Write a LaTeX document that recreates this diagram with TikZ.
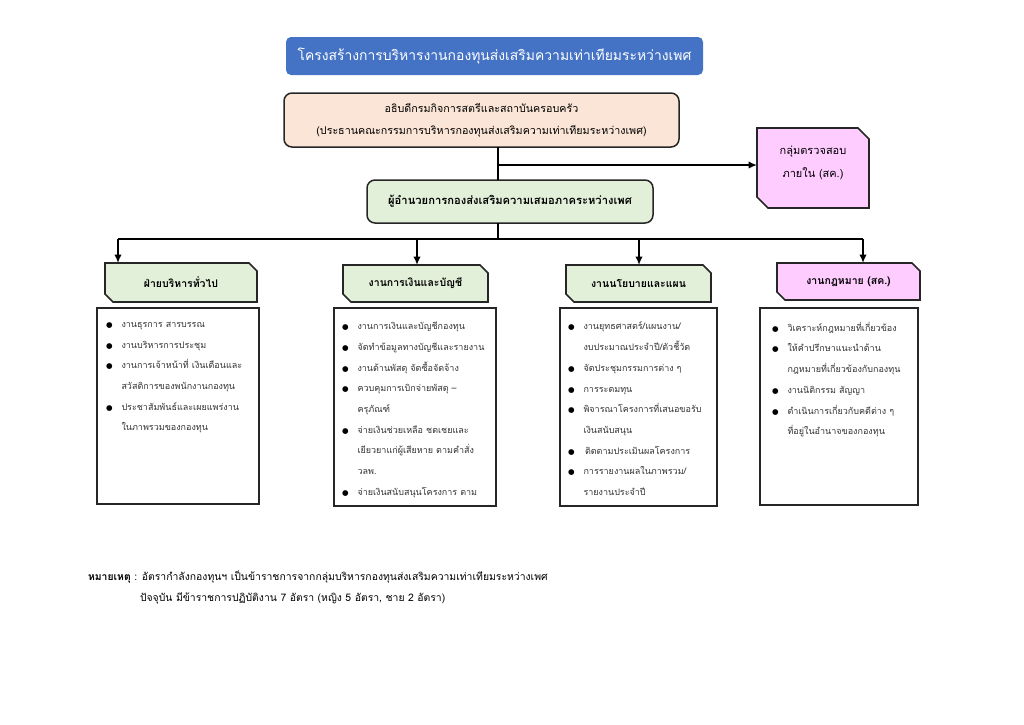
\documentclass[tikz,border=0pt]{standalone}
\usepackage{fontspec}
\newfontfamily\thai[Script=Thai]{Loma}
\newfontfamily\dejavu{DejaVu Sans}
\usetikzlibrary{arrows.meta,calc}
\pgfdeclarelayer{bg}\pgfsetlayers{bg,main}
\definecolor{titleblue}{HTML}{4472C4}
\definecolor{peach}{HTML}{FBE5D6}
\definecolor{lgreen}{HTML}{E2EFD9}
\definecolor{lpink}{HTML}{FFCCFF}
\definecolor{edge}{HTML}{262626}
\definecolor{bodytext}{HTML}{333333}
\newcommand\bul{\makebox[15.5pt][l]{\dejavu\fontsize{7.5}{8}\selectfont\color{black}●}}
\newcommand\ind{\hspace*{15.5pt}}
\newcommand\snipshape[3]{%
\begin{pgfonlayer}{bg}
\filldraw[fill=#2, draw=edge, line width=1.6pt, line join=miter]
 (#1.north west) -- ([xshift=-#3]#1.north east) -- ([yshift=-#3]#1.north east)
 -- (#1.south east) -- ([xshift=#3]#1.south west) -- ([yshift=#3]#1.south west) -- cycle;
\end{pgfonlayer}}
\tikzset{
  base/.style={inner sep=0pt, outer sep=0pt, align=center, font=\thai},
  rbox/.style={base, draw=edge, line width=1.5pt, rounded corners=8pt},
  snipnode/.style={base, draw=none},
  cbox/.style={inner sep=0pt, outer sep=0pt, draw=edge, line width=1.4pt, fill=white, anchor=north west},
  list/.style={inner sep=0pt, outer sep=0pt, anchor=north west, align=left, text=bodytext,
     font=\thai\fontsize{9}{20.7}\selectfont},
  conn/.style={line width=1.6pt, draw=black},
  arr/.style={conn, -{Latex[length=8.5pt,width=7.5pt]}},
}
\begin{document}
\begin{tikzpicture}[x=1pt,y=-1pt]
\useasboundingbox (0,0) rectangle (1024,724);

% title
\node[base, fill=titleblue, rounded corners=5pt, minimum width=417pt, minimum height=38pt,
  text=white, font=\thai\fontsize{13.9}{17}\selectfont] (title) at (494.5,56) {โครงสร้างการบริหารงานกองทุนส่งเสริมความเท่าเทียมระหว่างเพศ};

% top box
\node[rbox, fill=peach, minimum width=395pt, minimum height=54pt,
  font=\thai\fontsize{10.7}{22}\selectfont] (top) at (481.5,120)
  {\raisebox{-2pt}{อธิบดีกรมกิจการสตรีและสถาบันครอบครัว}\\\raisebox{-2pt}{(ประธานคณะกรรมการบริหารกองทุนส่งเสริมความเท่าเทียมระหว่างเพศ)}};

% director
\node[rbox, fill=lgreen, minimum width=286pt, minimum height=43pt,
  font=\thai\bfseries\fontsize{11.2}{13}\selectfont] (dir) at (510,201.5)
  {ผู้อำนวยการกองส่งเสริมความเสมอภาคระหว่างเพศ};

% internal audit
\node[snipnode, minimum width=112pt, minimum height=80pt] (pk) at (813,168) {};
\snipshape{pk}{lpink}{11pt}
\node[base, font=\thai\fontsize{11}{23}\selectfont] (pkt) at (813,163) {กลุ่มตรวจสอบ\\ภายใน (สค.)};

% headers
\node[snipnode, minimum width=152pt, minimum height=39pt, font=\thai\bfseries\fontsize{10.5}{12}\selectfont] (h1) at (181,282.5) {ฝ่ายบริหารทั่วไป};
\snipshape{h1}{lgreen}{8pt}
\node[snipnode, minimum width=145pt, minimum height=37pt, font=\thai\bfseries\fontsize{10.5}{12}\selectfont] (h2) at (415.5,283.5) {งานการเงินและบัญชี};
\snipshape{h2}{lgreen}{8pt}
\node[snipnode, minimum width=145pt, minimum height=37pt, font=\thai\bfseries\fontsize{10.5}{12}\selectfont] (h3) at (638.5,283.5) {งานนโยบายและแผน};
\snipshape{h3}{lgreen}{8pt}
\node[snipnode, minimum width=143pt, minimum height=37pt, font=\thai\bfseries\fontsize{10.5}{12}\selectfont] (h4) at (848.5,281.5) {งานกฎหมาย (สค.)};
\snipshape{h4}{lpink}{8pt}

% content boxes
\node[cbox, minimum width=162pt, minimum height=196pt] (c1) at (97,308) {};
\node[cbox, minimum width=162pt, minimum height=198pt] (c2) at (334,308) {};
\node[cbox, minimum width=157pt, minimum height=198pt] (c3) at (560,308) {};
\node[cbox, minimum width=158pt, minimum height=197pt] (c4) at (760,308) {};

\node[list] (l1) at (106,322) {\bul งานธุรการ สารบรรณ\\\bul งานบริหารการประชุม\\\bul งานการเจ้าหน้าที่ เงินเดือนและ\\\ind สวัสดิการของพนักงานกองทุน\\\bul ประชาสัมพันธ์และเผยแพร่งาน\\\ind ในภาพรวมของกองทุน};
\node[list] (l2) at (342,322) {\bul งานการเงินและบัญชีกองทุน\\\bul จัดทำข้อมูลทางบัญชีและรายงาน\\\bul งานด้านพัสดุ จัดซื้อจัดจ้าง\\\bul ควบคุมการเบิกจ่ายพัสดุ –\\\ind ครุภัณฑ์\\\bul จ่ายเงินช่วยเหลือ ชดเชยและ\\\ind เยียวยาแก่ผู้เสียหาย ตามคำสั่ง\\\ind วลพ.\\\bul จ่ายเงินสนับสนุนโครงการ ตาม};
\node[list] (l3) at (568,322) {\bul งานยุทธศาสตร์/แผนงาน/\\\ind งบประมาณประจำปี/ตัวชี้วัด\\\bul จัดประชุมกรรมการต่าง ๆ\\\bul การระดมทุน\\\bul พิจารณาโครงการที่เสนอขอรับ\\\ind เงินสนับสนุน\\\bul \,ติดตามประเมินผลโครงการ\\\bul การรายงานผลในภาพรวม/\\\ind รายงานประจำปี};
\node[list] (l4) at (772,322) {\bul วิเคราะห์กฎหมายที่เกี่ยวข้อง\\\bul ให้คำปรึกษาแนะนำด้าน\\\ind กฎหมายที่เกี่ยวข้องกับกองทุน\\\bul งานนิติกรรม สัญญา\\\bul ดำเนินการเกี่ยวกับคดีต่าง ๆ\\\ind ที่อยู่ในอำนาจของกองทุน};

% note
\node[base, anchor=west, align=left, font=\thai\fontsize{10.4}{21}\selectfont] (note) at (88,588)
  {{\bfseries หมายเหตุ} : อัตรากำลังกองทุนฯ เป็นข้าราชการจากกลุ่มบริหารกองทุนส่งเสริมความเท่าเทียมระหว่างเพศ\\\hspace*{52pt}ปัจจุบัน มีข้าราชการปฏิบัติงาน 7 อัตรา (หญิง 5 อัตรา, ชาย 2 อัตรา)};

% connectors
\coordinate (j0) at (498,0);
\coordinate (j1) at (498,165);
\coordinate (busL) at (118,239);
\coordinate (busR) at (863,239);
\coordinate (b2) at (417,239);
\coordinate (b3) at (639,239);
\draw[conn] (top.south -| j0) -- (dir.north -| j0);
\draw[arr] (j1) -- (j1 -| pk.west);
\draw[conn] (dir.south -| j0) -- (j0 |- busL);
\draw[conn] (busL) -- (busR);
\draw[arr] (busL) -- (busL |- h1.north);
\draw[arr] (b2) -- (b2 |- h2.north);
\draw[arr] (b3) -- (b3 |- h3.north);
\draw[arr] (busR) -- (busR |- h4.north);
\end{tikzpicture}
\end{document}
